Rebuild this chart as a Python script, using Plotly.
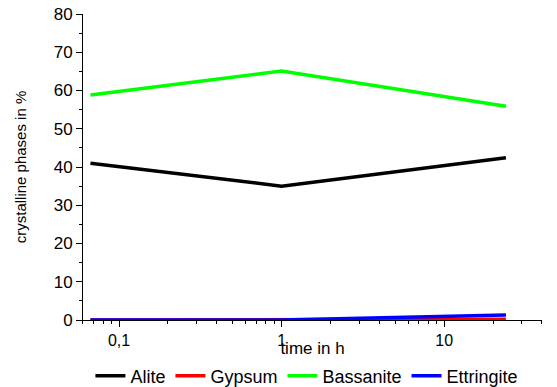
import plotly.graph_objects as go

time_h = [0.0667, 1, 24]
alite = [41.0, 35.0, 42.4]
gypsum = [0.0, 0.0, 0.2]
bassanite = [58.8, 65.1, 55.9]
ettringite = [0.0, 0.0, 1.3]

x_tickvals = [0.1, 1, 10]
x_ticktext = ["0,1", "1", "10"]
y_tickvals = [0, 10, 20, 30, 40, 50, 60, 70, 80]

series = [
    ("Alite", alite, "#000000"),
    ("Gypsum", gypsum, "#ff0000"),
    ("Bassanite", bassanite, "#00ff00"),
    ("Ettringite", ettringite, "#0000ff"),
]

fig = go.Figure()
for name, vals, col in series:
    fig.add_trace(go.Scatter(x=time_h, y=vals, name=name, mode="lines",
                             line=dict(color=col, width=3.5)))

font = "Liberation Sans, Arial, sans-serif"
fig.update_layout(
    width=557, height=387,
    margin=dict(l=83, r=15, t=14, b=67),
    paper_bgcolor="white", plot_bgcolor="white",
    font=dict(family=font, color="black", size=15),
    separators=", ",
    showlegend=True,
    legend=dict(orientation="h", xref="container", x=0.551, xanchor="center",
                yref="container", y=0.028, yanchor="middle",
                font=dict(size=18), tracegroupgap=0,
                bgcolor="rgba(0,0,0,0)"),
    xaxis=dict(type="log", range=[-1.2218, 1.6021], automargin="left+right",
               tickvals=x_tickvals, ticktext=x_ticktext,
               ticks="outside", ticklen=6, tickwidth=1, tickcolor="black",
               minor=dict(ticks="outside", ticklen=3, tickcolor="black", dtick="D1", showgrid=False),
               showline=True, linecolor="black", linewidth=1,
               showgrid=False, zeroline=False,
               tickfont=dict(size=16),
               title=dict(text="time in h", font=dict(size=17), standoff=0)),
    yaxis=dict(range=[0, 80], tickvals=y_tickvals, automargin=False,
               ticks="outside", ticklen=6, tickwidth=1, tickcolor="black",
               minor=dict(ticks="outside", ticklen=3, tickcolor="black", dtick=5, showgrid=False),
               showline=True, linecolor="black", linewidth=1,
               showgrid=False, zeroline=False,
               tickfont=dict(size=17),
               title=dict(text="crystalline phases in %", font=dict(size=15), standoff=23)),
)

fig.write_html("out.html", config={"displayModeBar": False},
               post_script="document.body.style.margin='0';")
